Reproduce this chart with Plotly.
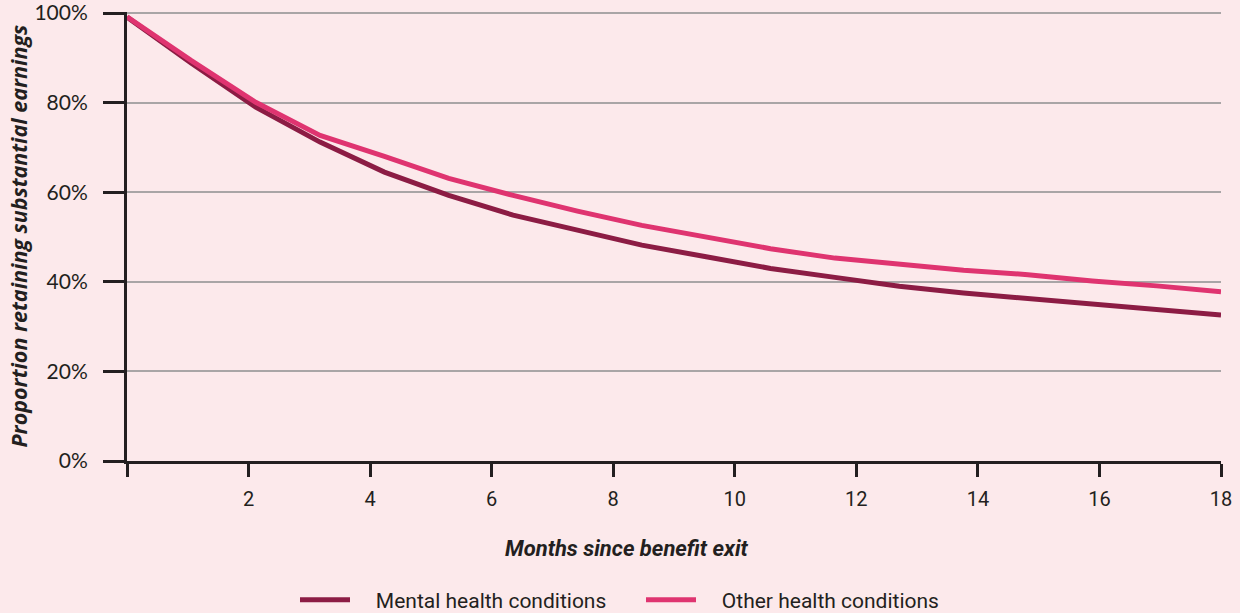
import plotly.graph_objects as go

# Data
months = [i * 18 / 17 for i in range(18)]
mental = [99.1, 88.8, 79.0, 71.2, 64.5, 59.3, 54.9, 51.5, 48.2, 45.6, 43.0, 41.0,
          39.0, 37.5, 36.3, 35.2, 33.9, 32.6]
other = [99.2, 89.4, 80.1, 72.7, 68.0, 63.1, 59.3, 55.8, 52.6, 50.0, 47.4, 45.3,
         43.9, 42.6, 41.6, 40.2, 39.1, 37.8]
series_names = ["Mental health conditions", "Other health conditions"]
x_ticks = [0, 2, 4, 6, 8, 10, 12, 14, 16, 18]
x_ticktext = ["", "2", "4", "6", "8", "10", "12", "14", "16", "18"]
y_ticks = [0, 20, 40, 60, 80, 100]
y_ticktext = ["0%", "20%", "40%", "60%", "80%", "100%"]

BG = "#fce9eb"
INK = "#231f20"
DARK = "#8c1c44"
PINK = "#df3470"
GAP = "&nbsp;" * 4  # extra space between legend swatch and label

fig = go.Figure()
fig.add_trace(go.Scatter(x=months, y=mental, mode="lines", name=GAP + series_names[0],
                         line=dict(color=DARK, width=5)))
fig.add_trace(go.Scatter(x=months, y=other, mode="lines", name=GAP + series_names[1],
                         line=dict(color=PINK, width=5)))

W, H = 1240, 613
L, R, T, B = 127, 19, 12, 152

fig.update_layout(
    width=W, height=H,
    margin=dict(l=L, r=R, t=T, b=B, autoexpand=False),
    paper_bgcolor=BG, plot_bgcolor=BG,
    font=dict(family="Roboto", color=INK, size=18),
    showlegend=True,
    legend=dict(orientation="h", xref="container", yref="container",
                x=295 / W, xanchor="left", y=(H - 600) / H, yanchor="middle",
                font=dict(family="Roboto", size=21, color=INK), bgcolor="rgba(0,0,0,0)",
                itemwidth=50, entrywidth=281, entrywidthmode="pixels", tracegroupgap=0),
    xaxis=dict(range=[0, 18], tickvals=x_ticks, ticktext=x_ticktext, automargin=False,
               showgrid=False, zeroline=False, showline=True, linecolor=INK, linewidth=3,
               ticks="outside", ticklen=13, tickwidth=2.5, tickcolor=INK,
               tickfont=dict(family="Roboto", size=20, color=INK),
               ticklabelstandoff=5, ticklabeloverflow="allow"),
    yaxis=dict(range=[0, 100.25], tickvals=y_ticks, ticktext=y_ticktext, automargin=False,
               showgrid=True, gridcolor="#a9a5a6", gridwidth=1.5, zeroline=False,
               showline=True, linecolor=INK, linewidth=3,
               ticks="outside", ticklen=21, tickwidth=3, tickcolor=INK,
               tickfont=dict(family="Lato", size=21, color=INK),
               ticklabelstandoff=11, ticklabeloverflow="allow"),
    annotations=[
        dict(text="<b><i>Proportion retaining substantial earnings</i></b>",
             xref="paper", yref="paper", x=-109 / 1094, y=0.5, textangle=-90,
             xanchor="center", yanchor="middle", showarrow=False,
             font=dict(family="Open Sans", size=21.5, color=INK)),
        dict(text="<b><i>Months since benefit exit</i></b>",
             xref="paper", yref="paper", x=(627 - 127) / 1094, y=(461 - 548) / 448,
             xanchor="center", yanchor="middle", showarrow=False,
             font=dict(family="Roboto", size=22, color=INK)),
    ],
)

fig.write_html("out.html", config={"displayModeBar": False},
               post_script="document.body.style.margin='0';document.body.style.background='#fce9eb';")
